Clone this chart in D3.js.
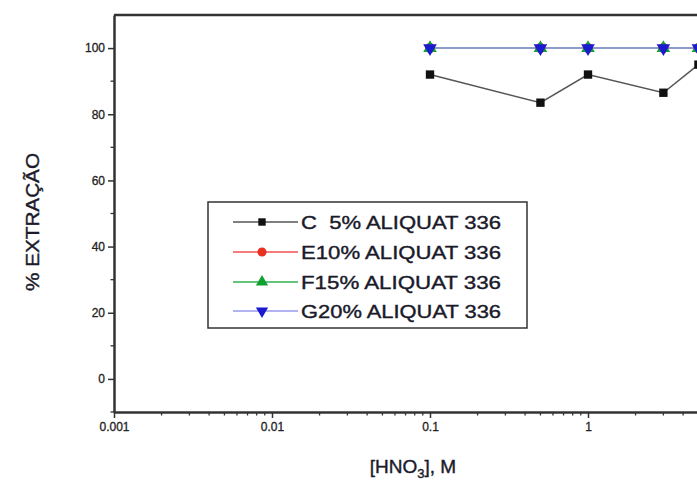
<!DOCTYPE html>
<html><head><meta charset="utf-8">
<script src="https://cdn.jsdelivr.net/npm/d3@7"></script>
<style>body{margin:0;background:#fff}svg{display:block}text{font-family:"Liberation Sans",Arial,sans-serif;white-space:pre}</style>
</head><body><div id="c"></div>
<script>
const xValues = [0.1, 0.5, 1, 3, 5];
const seriesC = [92, 83.5, 92, 86.5, 95];
const seriesE = [100, 100, 100, 100, 100];
const seriesF = [100, 100, 100, 100, 100];
const seriesG = [100, 100, 100, 100, 100];
const seriesNames = ["C  5% ALIQUAT 336", "E10% ALIQUAT 336", "F15% ALIQUAT 336", "G20% ALIQUAT 336"];
const yTicks = [0, 20, 40, 60, 80, 100];
const xTicks = [0.001, 0.01, 0.1, 1];
const xTickLabels = ["0.001", "0.01", "0.1", "1"];

const W = 697, H = 480;
const svg = d3.select("#c").append("svg").attr("width", W).attr("height", H);
const x = d3.scaleLog().domain([0.001, 10]).range([114, 114 + 158 * 4]);
const y = d3.scaleLinear().domain([-10, 110]).range([412, 15]);

const series = [
  {name: seriesNames[0], vals: seriesC, line: "#555", fill: "#111", sym: d3.symbolSquare, rot: 0},
  {name: seriesNames[1], vals: seriesE, line: "#f05050", fill: "#e83020", sym: d3.symbolCircle, rot: 0},
  {name: seriesNames[2], vals: seriesF, line: "#30b050", fill: "#10a030", sym: d3.symbolTriangle, rot: 0},
  {name: seriesNames[3], vals: seriesG, line: "#9a9af0", fill: "#1a1ad0", sym: d3.symbolTriangle, rot: 180}
];

// axes
const xAxis = d3.axisBottom(x).tickValues(xTicks).tickFormat((d, i) => xTickLabels[i]).tickSize(6).tickSizeOuter(0);
const gx = svg.append("g").attr("transform", `translate(0,${y(-10)})`).call(xAxis);
gx.select(".domain").attr("stroke", "#333").attr("stroke-width", 2.5);
gx.selectAll(".tick line").attr("stroke", "#333").attr("stroke-width", 1.5);
gx.selectAll(".tick text").attr("font-size", 12).attr("fill", "#222").attr("dy", "0.85em")
  .attr("stroke", "#222").attr("stroke-width", 0.3);
// minor x ticks
const minor = [];
[0.001, 0.01, 0.1, 1].forEach(d => { for (let k = 2; k <= 9; k++) minor.push(d * k); });
svg.append("g").selectAll("line").data(minor).join("line")
  .attr("x1", d => x(d)).attr("x2", d => x(d))
  .attr("y1", y(-10)).attr("y2", y(-10) + 3.5)
  .attr("stroke", "#333").attr("stroke-width", 1.3);

const yAxis = d3.axisLeft(y).tickValues(yTicks).tickSize(6).tickSizeOuter(0);
const gy = svg.append("g").attr("transform", `translate(${x(0.001)},0)`).call(yAxis);
gy.select(".domain").attr("stroke", "#333").attr("stroke-width", 2.5);
gy.selectAll(".tick line").attr("stroke", "#333").attr("stroke-width", 1.5);
gy.selectAll(".tick text").attr("font-size", 12).attr("fill", "#222").attr("x", -9)
  .attr("stroke", "#222").attr("stroke-width", 0.3);
svg.append("g").selectAll("line").data([-10, 10, 30, 50, 70, 90]).join("line")
  .attr("x1", x(0.001) - 3.5).attr("x2", x(0.001))
  .attr("y1", d => y(d)).attr("y2", d => y(d))
  .attr("stroke", "#333").attr("stroke-width", 1.3);

// top frame line
svg.append("line").attr("x1", x(0.001)).attr("x2", W).attr("y1", y(110)).attr("y2", y(110))
  .attr("stroke", "#333").attr("stroke-width", 2.5);

// series lines + markers
const line = d3.line().x(d => x(d[0])).y(d => y(d[1]));
series.forEach(s => {
  const pts = xValues.map((v, i) => [v, s.vals[i]]);
  svg.append("path").datum(pts).attr("d", line).attr("fill", "none")
    .attr("stroke", s.line).attr("stroke-width", 1.5);
});
series.forEach(s => {
  const pts = xValues.map((v, i) => [v, s.vals[i]]);
  svg.append("g").selectAll("path").data(pts).join("path")
    .attr("d", d3.symbol().type(s.sym).size(s.sym === d3.symbolSquare ? 70 : 80))
    .attr("transform", d => `translate(${x(d[0])},${y(d[1])}) rotate(${s.rot})`)
    .attr("fill", s.fill);
});

// legend
const lg = svg.append("g");
lg.append("rect").attr("x", 208).attr("y", 202).attr("width", 319).attr("height", 126)
  .attr("fill", "#fff").attr("stroke", "#333").attr("stroke-width", 1.5);
const rowsY = [222, 252, 282, 311];
series.forEach((s, i) => {
  const yy = rowsY[i];
  lg.append("line").attr("x1", 233).attr("x2", 298).attr("y1", yy).attr("y2", yy)
    .attr("stroke", s.line).attr("stroke-width", 1.3);
  lg.append("path").attr("d", d3.symbol().type(s.sym).size(s.sym === d3.symbolSquare ? 55 : 65))
    .attr("transform", `translate(262,${yy}) rotate(${s.rot})`).attr("fill", s.fill);
  lg.append("text").attr("x", 301).attr("y", yy + 7).attr("font-size", 19)
    .attr("fill", "#1a1a2a").attr("stroke", "#1a1a2a").attr("stroke-width", 0.4)
    .attr("textLength", 200).attr("lengthAdjust", "spacingAndGlyphs")
    .text(s.name);
});

// axis titles
svg.append("text").attr("transform", `translate(39,222) rotate(-90)`)
  .attr("text-anchor", "middle").attr("font-size", 19).attr("fill", "#1a1a2a")
  .attr("stroke", "#1a1a2a").attr("stroke-width", 0.4)
  .attr("textLength", 138).attr("lengthAdjust", "spacingAndGlyphs")
  .text("% EXTRAÇÃO");
const xt = svg.append("text").attr("x", 413).attr("y", 473).attr("text-anchor", "middle")
  .attr("font-size", 19).attr("fill", "#1a1a2a").attr("stroke", "#1a1a2a").attr("stroke-width", 0.4);
xt.append("tspan").text("[HNO");
xt.append("tspan").attr("font-size", 13).attr("dy", 5).text("3");
xt.append("tspan").attr("dy", -5).text("], M");
</script></body></html>
